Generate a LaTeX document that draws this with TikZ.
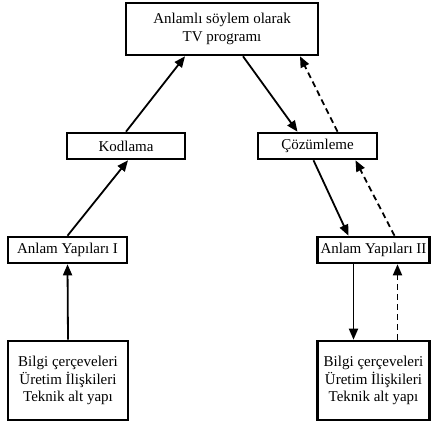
\documentclass[tikz,border=0pt]{standalone}
\usepackage{fontspec}
\setmainfont{Liberation Serif}
\usepackage{tikz}
\usetikzlibrary{positioning, arrows.meta}

\begin{document}
\begin{tikzpicture}[x=1pt, y=-1pt,
	kutu/.style={rectangle, draw, line width=2.6pt, inner sep=0pt, align=center, font=\fontsize{15}{17.5}\selectfont},
	ok/.style={line width=1.8pt, -{Triangle[length=11pt,width=9pt]}},
	kesik/.style={ok, dash pattern=on 6pt off 4pt},
	]
	\useasboundingbox (0,0) rectangle (431,423);
	
	\node[kutu, minimum width=192, minimum height=52] (Prog) at (222,29) {Anlamlı söylem olarak \\ TV programı};
	\node[kutu, minimum width=118, minimum height=26] (Kod) at (126,146) {Kodlama};
	\node[kutu, minimum width=119, minimum height=26] (Coz) at (317.5,146) {Çözümleme};
	\node[kutu, minimum width=119, minimum height=26] (AY1) at (67.5,250) {Anlam Yapıları I};
	\node[kutu, minimum width=112, minimum height=26] (AY2) at (373.5,250) {Anlam Yapıları II};
	\node[kutu, minimum width=120, minimum height=79] (Alt1) at (68,380.5) {Bilgi çerçeveleri \\ Üretim İlişkileri \\ Teknik alt yapı};
	\node[kutu, minimum width=112, minimum height=79] (Alt2) at (373.5,380.5) {Bilgi çerçeveleri \\ Üretim İlişkileri \\ Teknik alt yapı};
	
	% kodlama tarafi
	\draw[ok] (Alt1.north) -- (AY1.south);
	\draw[ok] (AY1.north) -- ([xshift=2pt]Kod.south);
	\draw[ok] (Kod.north) -- ([xshift=-37pt]Prog.south);
	
	% cozumleme tarafi
	\draw[ok] ([xshift=21pt]Prog.south) -- ([xshift=-20pt]Coz.north);
	\draw[kesik] ([xshift=20pt]Coz.north) -- ([xshift=78pt]Prog.south);
	\draw[ok] ([xshift=-4pt]Coz.south) -- ([xshift=-25pt]AY2.north);
	\draw[kesik] ([xshift=21pt]AY2.north) -- ([xshift=38pt]Coz.south);
	\draw[ok] ([xshift=-20pt]AY2.south) -- ([xshift=-20pt]Alt2.north);
	\draw[kesik] ([xshift=24pt]Alt2.north) -- ([xshift=24pt]AY2.south);
\end{tikzpicture}
\end{document}
